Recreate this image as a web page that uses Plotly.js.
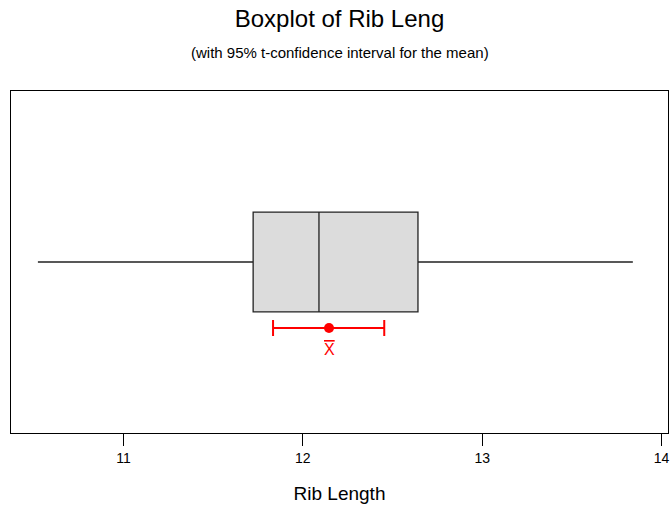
<!DOCTYPE html>
<html>
<head>
<meta charset="utf-8">
<script src="https://cdn.plot.ly/plotly-3.0.1.min.js"></script>
<style>html,body{margin:0;padding:0;background:#fff;}#chart{width:670px;height:508px;}</style>
</head>
<body>
<div id="chart"></div>
<script>
// Five-number summary of Rib Length
const boxPos = [0.5];
const q1 = [11.723];
const median = [12.090];
const q3 = [12.642];
const lowerFence = [10.523];
const upperFence = [13.840];

// Mean and 95% t-confidence interval
const ciPos = [0.307];
const meanVal = [12.146];
const ciLow = [11.834];
const ciHigh = [12.454];

const tickVals = [11, 12, 13, 14];
const tickText = ['11', '12', '13', '14'];

const FONT = 'Liberation Sans, Arial, sans-serif';

const boxTrace = {
  type: 'box',
  orientation: 'h',
  y: boxPos,
  q1: q1,
  median: median,
  q3: q3,
  lowerfence: lowerFence,
  upperfence: upperFence,
  width: 0.292,
  whiskerwidth: 0,
  boxpoints: false,
  fillcolor: '#dcdcdc',
  line: {color: '#222', width: 1.3},
  hoverinfo: 'skip',
  showlegend: false
};

const ciTrace = {
  type: 'scatter',
  mode: 'markers',
  x: meanVal,
  y: ciPos,
  marker: {color: '#ff0000', size: 10},
  error_x: {
    type: 'data',
    symmetric: false,
    array: [ciHigh[0] - meanVal[0]],
    arrayminus: [meanVal[0] - ciLow[0]],
    color: '#ff0000',
    thickness: 2,
    width: 8
  },
  hoverinfo: 'skip',
  showlegend: false
};

const layout = {
  width: 670,
  height: 508,
  paper_bgcolor: '#fff',
  plot_bgcolor: '#fff',
  margin: {l: 11, r: 2, t: 91, b: 75},
  font: {family: FONT, color: '#000'},
  title: {
    text: 'Boxplot of Rib Leng',
    font: {family: FONT, size: 24, color: '#000'},
    x: 0.5, xanchor: 'center', xref: 'paper',
    y: 0.963, yanchor: 'middle', yref: 'container'
  },
  xaxis: {
    range: [10.373, 14.036],
    tickvals: tickVals,
    ticktext: tickText,
    ticks: 'outside',
    ticklen: 12,
    tickwidth: 1,
    tickcolor: '#000',
    tickfont: {family: FONT, size: 14, color: '#000'},
    showline: true,
    mirror: true,
    linecolor: '#000',
    linewidth: 1.2,
    showgrid: false,
    zeroline: false,
    title: {text: 'Rib Length', font: {family: FONT, size: 19, color: '#000'}, standoff: 21}
  },
  yaxis: {
    range: [0, 1],
    showticklabels: false,
    ticks: '',
    showline: true,
    mirror: true,
    linecolor: '#000',
    linewidth: 1.2,
    showgrid: false,
    zeroline: false
  },
  annotations: [
    {
      text: '(with 95% t-confidence interval for the mean)',
      xref: 'paper', yref: 'paper', x: 0.5, y: 1, yshift: 39,
      xanchor: 'center', yanchor: 'middle', showarrow: false,
      font: {family: FONT, size: 15, color: '#000'}
    },
    {
      text: '<span style="text-decoration:overline">X</span>',
      xref: 'x', yref: 'y', x: meanVal[0], y: ciPos[0], yshift: -21,
      xanchor: 'center', yanchor: 'middle', showarrow: false,
      font: {family: FONT, size: 16, color: '#ff0000'}
    }
  ]
};

Plotly.newPlot('chart', [boxTrace, ciTrace], layout, {displayModeBar: false, staticPlot: true});
</script>
</body>
</html>
